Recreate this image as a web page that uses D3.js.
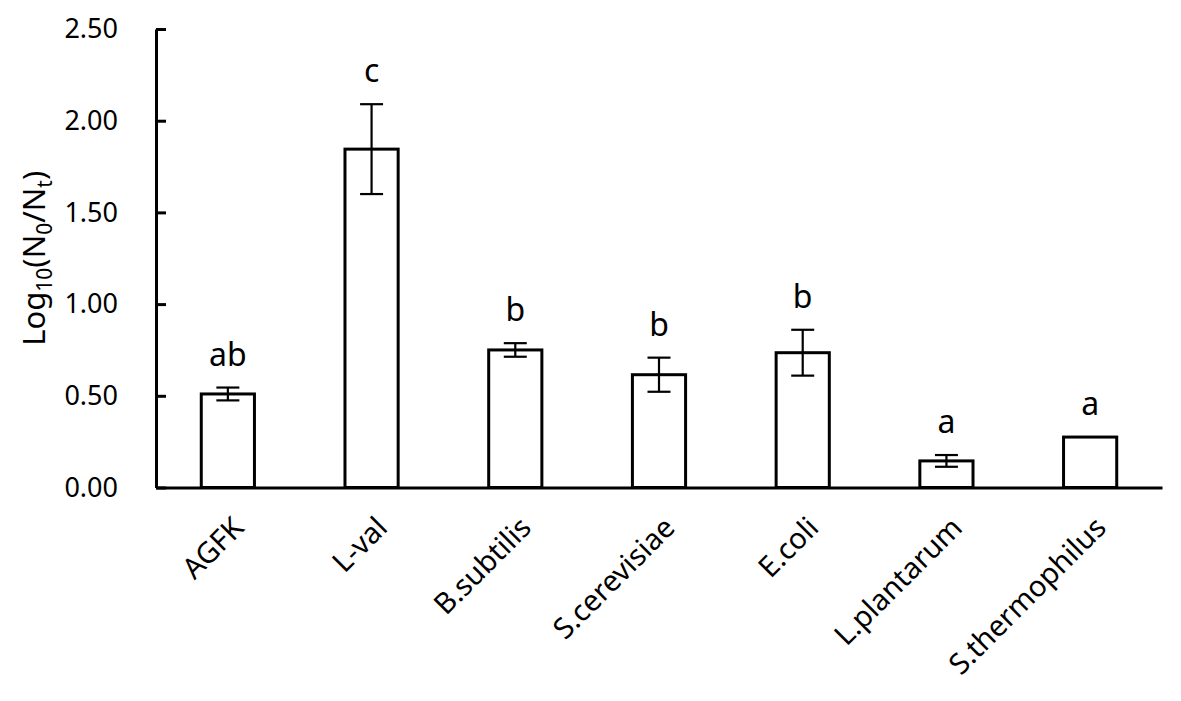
<!DOCTYPE html>
<html>
<head>
<meta charset="utf-8">
<script src="https://cdn.jsdelivr.net/npm/d3@7"></script>
<style>
  body { margin: 0; background: #fff; }
  svg { display: block; font-family: "Noto Sans", "Open Sans", sans-serif; }
</style>
</head>
<body>
<div id="chart-holder"></div>
<script>
// Data
const categories = ["AGFK", "L-val", "B.subtilis", "S.cerevisiae", "E.coli", "L.plantarum", "S.thermophilus"];
const means = [0.51, 1.845, 0.75, 0.615, 0.735, 0.145, 0.275];
const errors = [0.035, 0.245, 0.037, 0.093, 0.125, 0.032, 0];
const letters = ["ab", "c", "b", "b", "b", "a", "a"];
const yTicks = [0, 0.5, 1, 1.5, 2, 2.5];

const width = 1181;
const height = 701;
const marginTop = 29;
const marginRight = 19;
const marginBottom = 213.5;
const marginLeft = 156;

const x = d3
  .scaleBand()
  .domain(categories)
  .range([marginLeft, width - marginRight])
  .paddingInner(0.63)
  .paddingOuter(0.315);

const y = d3
  .scaleLinear()
  .domain([0, 2.5])
  .range([height - marginBottom, marginTop]);

const svg = d3
  .select("#chart-holder")
  .append("svg")
  .attr("width", width)
  .attr("height", height);

// Bars
svg
  .append("g")
  .selectAll("rect")
  .data(means)
  .join("rect")
  .attr("x", (d, i) => x(categories[i]))
  .attr("y", (d) => y(d))
  .attr("width", x.bandwidth())
  .attr("height", (d) => y(0) - y(d))
  .attr("fill", "#fff")
  .attr("stroke", "#000")
  .attr("stroke-width", 3);

// Error bars
const capHalf = 11.5;
const err = svg
  .append("g")
  .attr("stroke", "#000")
  .attr("stroke-width", 2.2)
  .selectAll("g")
  .data(means.map((m, i) => ({ m, e: errors[i], c: categories[i] })).filter((d) => d.e > 0))
  .join("g");

err
  .append("line")
  .attr("x1", (d) => x(d.c) + x.bandwidth() / 2)
  .attr("x2", (d) => x(d.c) + x.bandwidth() / 2)
  .attr("y1", (d) => y(d.m - d.e))
  .attr("y2", (d) => y(d.m + d.e));

err
  .append("line")
  .attr("x1", (d) => x(d.c) + x.bandwidth() / 2 - capHalf)
  .attr("x2", (d) => x(d.c) + x.bandwidth() / 2 + capHalf)
  .attr("y1", (d) => y(d.m + d.e))
  .attr("y2", (d) => y(d.m + d.e));

err
  .append("line")
  .attr("x1", (d) => x(d.c) + x.bandwidth() / 2 - capHalf)
  .attr("x2", (d) => x(d.c) + x.bandwidth() / 2 + capHalf)
  .attr("y1", (d) => y(d.m - d.e))
  .attr("y2", (d) => y(d.m - d.e));

// Significance letters
svg
  .append("g")
  .selectAll("text")
  .data(letters)
  .join("text")
  .attr("x", (d, i) => x(categories[i]) + x.bandwidth() / 2)
  .attr("y", (d, i) => y(means[i] + errors[i]) - 22)
  .attr("text-anchor", "middle")
  .attr("font-size", 32)
  .attr("fill", "#000")
  .text((d) => d);

// Y axis, ticks pointing inward
const yAxis = svg
  .append("g")
  .attr("transform", `translate(${marginLeft},0)`)
  .call(
    d3
      .axisLeft(y)
      .tickValues(yTicks)
      .tickFormat(d3.format(".2f"))
      .tickSizeInner(-10)
      .tickSizeOuter(0)
      .tickPadding(38)
  );
yAxis.select(".domain").attr("stroke", "#000").attr("stroke-width", 3);
yAxis.selectAll(".tick line").attr("stroke", "#000").attr("stroke-width", 3);
yAxis
  .selectAll(".tick text")
  .attr("font-size", 27)
  .attr("font-family", "'Noto Sans', sans-serif")
  .attr("fill", "#000");

// X axis
const xAxis = svg
  .append("g")
  .attr("transform", `translate(0,${y(0)})`)
  .call(d3.axisBottom(x).tickSize(0).tickSizeOuter(0));
xAxis.select(".domain").attr("stroke", "#000").attr("stroke-width", 3);
xAxis
  .selectAll(".tick text")
  .attr("x", 0)
  .attr("y", 0)
  .attr("dy", 0)
  .attr("transform", `translate(${x.bandwidth() / 2 - 9},42) rotate(-45)`)
  .attr("text-anchor", "end")
  .attr("font-size", 29)
  .attr("font-family", "'Noto Sans', sans-serif")
  .attr("fill", "#000");

// Y axis title with subscripts
const title = svg
  .append("text")
  .attr("transform", `translate(45,${(marginTop + y(0)) / 2}) rotate(-90)`)
  .attr("text-anchor", "middle")
  .attr("font-size", 31)
  .attr("fill", "#000");
title.append("tspan").text("Log");
title.append("tspan").attr("dy", 7).attr("font-size", 21).text("10");
title.append("tspan").attr("dy", -7).text("(N");
title.append("tspan").attr("dy", 7).attr("font-size", 21).text("0");
title.append("tspan").attr("dy", -7).text("/N");
title.append("tspan").attr("dy", 7).attr("font-size", 21).text("t");
title.append("tspan").attr("dy", -7).text(")");
</script>
</body>
</html>
